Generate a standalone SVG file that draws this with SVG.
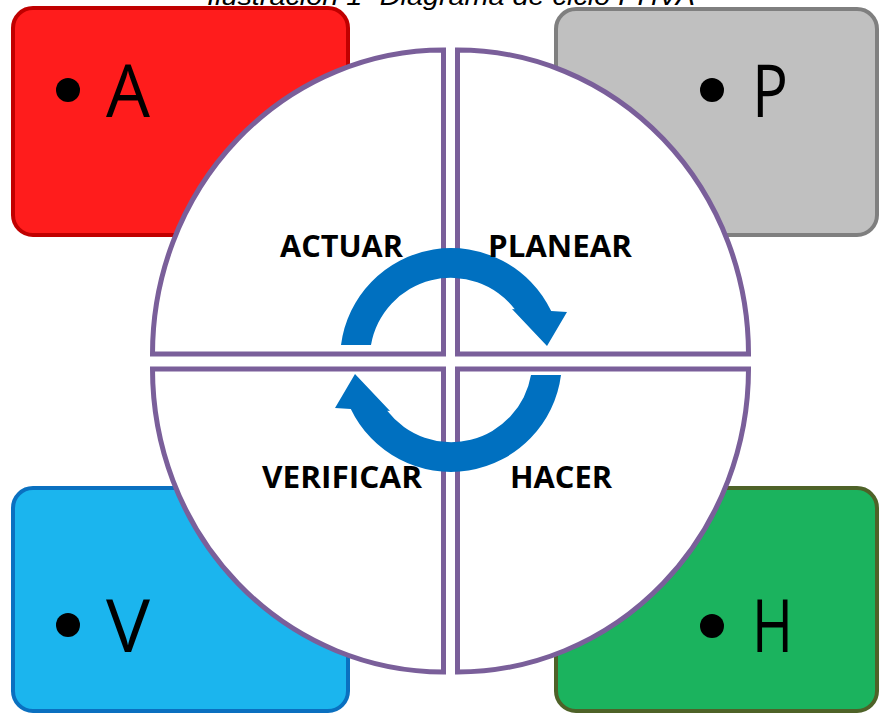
<svg xmlns="http://www.w3.org/2000/svg" width="879" height="714" viewBox="0 0 879 714">
<style>
.box{stroke-width:4}
.quad{fill:#fff;stroke:#7a5f9a;stroke-width:5}
.letter{font-family:"Open Sans","Liberation Sans",sans-serif;font-size:74px;fill:#000}
.lbl{font-family:"Open Sans","Liberation Sans",sans-serif;font-size:30px;font-weight:bold;fill:#000}
.cap{font-family:"Liberation Sans","Open Sans",sans-serif;font-style:italic;font-size:26px;fill:#000}
.arrow{fill:#0070c0}
</style>
<rect width="879" height="714" fill="#fff"/>
<text class="cap" x="207" y="5" textLength="488" lengthAdjust="spacingAndGlyphs">Ilustración 1- Diagrama de ciclo PHVA</text>
<g id="box-A">
<rect class="box" x="13" y="8" width="335" height="227" rx="20" fill="#ff1c1c" stroke="#c00000"/>
<circle cx="68" cy="90" r="12" fill="#000"/>
<text class="letter" x="106" y="117" textLength="44" lengthAdjust="spacingAndGlyphs">A</text>
</g>
<g id="box-P">
<rect class="box" x="556" y="9" width="321" height="226" rx="20" fill="#c0c0c0" stroke="#7f7f7f"/>
<circle cx="712" cy="90" r="12" fill="#000"/>
<text class="letter" x="752" y="117" textLength="36" lengthAdjust="spacingAndGlyphs">P</text>
</g>
<g id="box-V">
<rect class="box" x="13" y="488" width="335" height="223" rx="20" fill="#1bb5ee" stroke="#0a70c0"/>
<circle cx="68" cy="625" r="12" fill="#000"/>
<text class="letter" x="106" y="652" textLength="44" lengthAdjust="spacingAndGlyphs">V</text>
</g>
<g id="box-H">
<rect class="box" x="556" y="488" width="321" height="223" rx="20" fill="#1bb35e" stroke="#4e6228"/>
<circle cx="712" cy="626" r="12" fill="#000"/>
<text class="letter" x="752" y="652" textLength="41" lengthAdjust="spacingAndGlyphs">H</text>
</g>
<g id="q-actuar">
<path class="quad" d="M443.5,354 L152.5,354 A291 304 0 0 1 443.5,50 Z"/>
</g>
<g id="q-planear">
<path class="quad" d="M457.5,354 L457.5,50 A291 304 0 0 1 748.5,354 Z"/>
</g>
<g id="q-hacer">
<path class="quad" d="M457.5,369 L748.5,369 A291 303 0 0 1 457.5,672 Z"/>
</g>
<g id="q-verificar">
<path class="quad" d="M443.5,369 L443.5,672 A291 303 0 0 1 152.5,369 Z"/>
</g>
<g id="connectors">
<path class="arrow" d="M341,345 A111 111 0 0 1 551.2,311.1 L567,312 L547,346 L512,309 L514.8,309.2 A81 81 0 0 0 371,345 Z"/>
<path class="arrow" d="M561,375 A111 111 0 0 1 350.8,408.9 L335,408 L355,374 L390,411 L387.2,410.8 A81 81 0 0 0 531,375 Z"/>
</g>
<g id="labels">
<text class="lbl" x="280" y="257" textLength="123" lengthAdjust="spacingAndGlyphs">ACTUAR</text>
<text class="lbl" x="488" y="257" textLength="144" lengthAdjust="spacingAndGlyphs">PLANEAR</text>
<text class="lbl" x="262" y="488" textLength="160" lengthAdjust="spacingAndGlyphs">VERIFICAR</text>
<text class="lbl" x="510" y="488" textLength="102" lengthAdjust="spacingAndGlyphs">HACER</text>
</g>
</svg>
